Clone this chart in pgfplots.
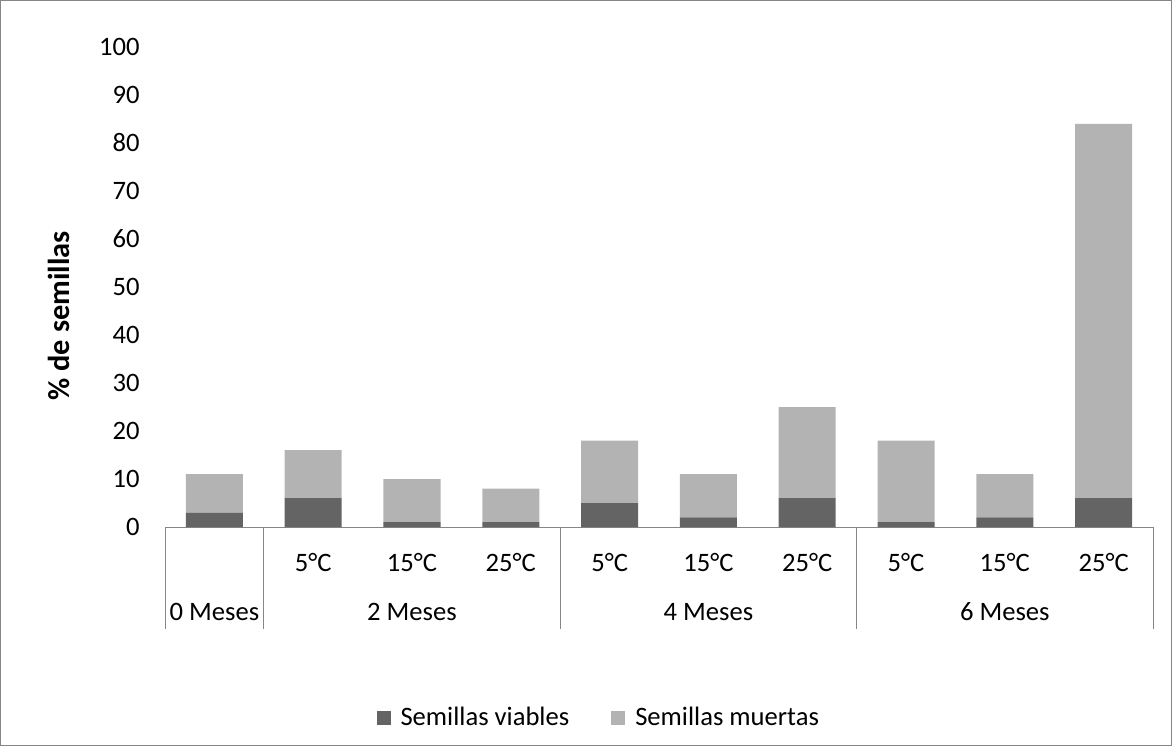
\documentclass[border=0pt]{standalone}
\usepackage{fontspec}
\setmainfont{Carlito}
\usepackage{pgfplots}
\pgfplotsset{compat=1.18}
\definecolor{dark}{RGB}{100,100,100}
\definecolor{light}{RGB}{179,179,179}
\definecolor{axgray}{RGB}{134,134,134}
\begin{document}
\begin{tikzpicture}[font=\fontsize{13.3}{15.5}\selectfont]
\begin{axis}[
  at={(0,0)}, anchor=south west,
  scale only axis, width=494pt, height=240pt,
  ybar stacked, bar width=0.577,
  xmin=-0.5, xmax=9.5, ymin=0, ymax=100,
  ytick={0,10,...,100},
  xtick={0,...,9},
  xticklabels={,5°C,15°C,25°C,5°C,15°C,25°C,5°C,15°C,25°C},
  xticklabel style={anchor=center, yshift=-17.5pt},
  yticklabel style={anchor=east, inner sep=0pt, xshift=-12.5pt},
  /pgf/number format/assume math mode=true,
  major tick length=0pt,
  axis x line*=bottom, axis y line*=left,
  x axis line style={draw=axgray, -},
  y axis line style={draw=none},
  clip=false,
  legend columns=2,
  legend style={at={(0.44,-0.398)}, anchor=center, draw=none, fill=none,
    /tikz/every even column/.append style={column sep=19pt},
    /tikz/every odd column/.append style={column sep=3pt}},
  legend image code/.code={\fill[#1] (0pt,-3.5pt) rectangle (7pt,3.5pt);},
]
\addplot[fill=dark, draw=none] coordinates {(0,3) (1,6) (2,1) (3,1) (4,5) (5,2) (6,6) (7,1) (8,2) (9,6)};
\addplot[fill=light, draw=none] coordinates {(0,8) (1,10) (2,9) (3,7) (4,13) (5,9) (6,19) (7,17) (8,9) (9,78)};
\legend{Semillas viables, Semillas muertas}
\draw[axgray] (axis cs:-0.5,0) -- ([yshift=-51pt]axis cs:-0.5,0);
\draw[axgray] (axis cs:0.5,0) -- ([yshift=-51pt]axis cs:0.5,0);
\draw[axgray] (axis cs:3.5,0) -- ([yshift=-51pt]axis cs:3.5,0);
\draw[axgray] (axis cs:6.5,0) -- ([yshift=-51pt]axis cs:6.5,0);
\draw[axgray] (axis cs:9.5,0) -- ([yshift=-51pt]axis cs:9.5,0);
\node at ([yshift=-42.5pt]axis cs:0,0) {0 Meses};
\node at ([yshift=-42.5pt]axis cs:2,0) {2 Meses};
\node at ([yshift=-42.5pt]axis cs:5,0) {4 Meses};
\node at ([yshift=-42.5pt]axis cs:8,0) {6 Meses};
\node[rotate=90, font=\fontsize{15.2}{18}\selectfont\bfseries] at ([xshift=-53pt]axis cs:-0.5,44) {\% de semillas};
\end{axis}
\draw[axgray, line width=0.5pt] (-82.25pt,-109.25pt) rectangle (503.25pt,263.25pt);
\end{tikzpicture}
\end{document}
